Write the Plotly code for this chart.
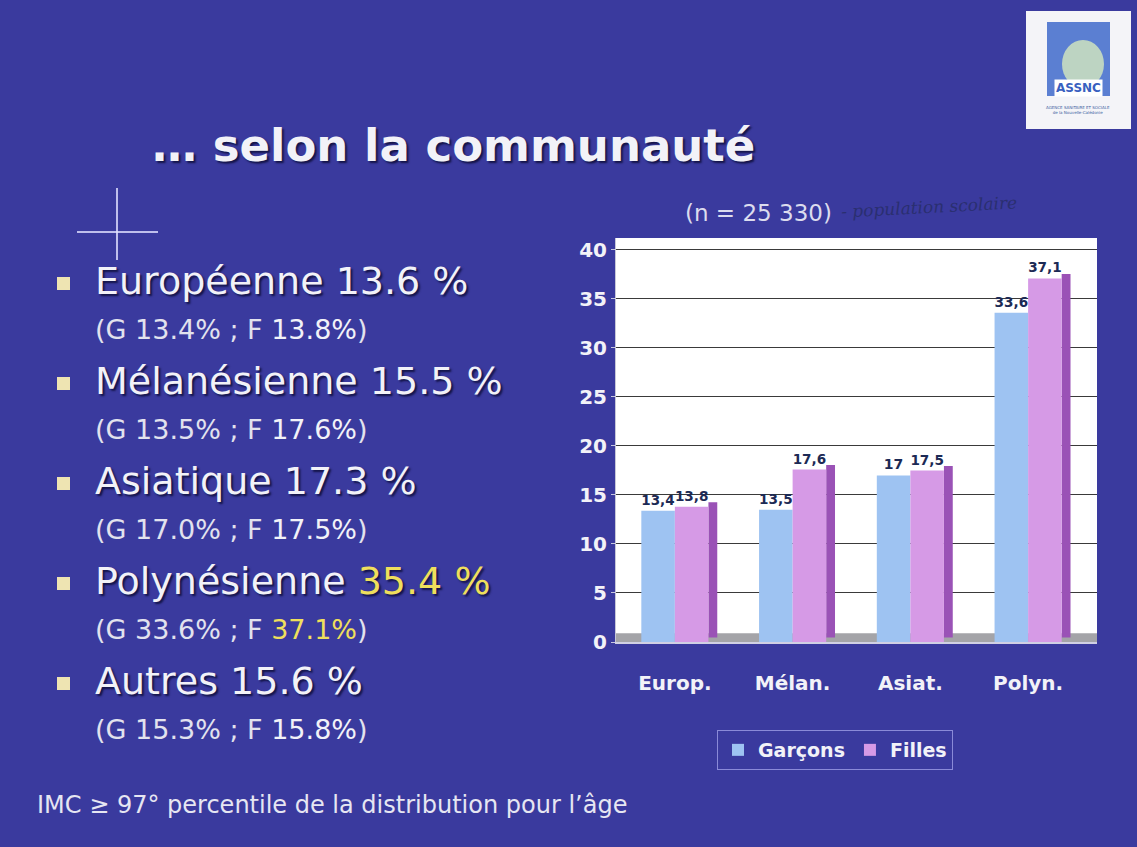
import plotly.graph_objects as go

# ---------------- data ----------------
categories = ["Europ.", "Mélan.", "Asiat.", "Polyn."]
garcons = [13.4, 13.5, 17.0, 33.6]
filles = [13.8, 17.6, 17.5, 37.1]
y_ticks = [0, 5, 10, 15, 20, 25, 30, 35, 40]

communautes = ["Européenne", "Mélanésienne", "Asiatique", "Polynésienne", "Autres"]
total_pct = [13.6, 15.5, 17.3, 35.4, 15.6]
g_pct = [13.4, 13.5, 17.0, 33.6, 15.3]
f_pct = [13.8, 17.6, 17.5, 37.1, 15.8]
highlight = [False, False, False, True, False]

title_text = "… selon la communauté"
n_text = "(n = 25 330)"
note_text = "IMC ≥ 97° percentile de la distribution pour l’âge"

# ---------------- styles ----------------
BG = "#3a3a9e"
WHITE = "#f2f2f8"
YELLOW = "#efdf5c"
BLUE = "#9ec3f2"
PINK = "#d69ae6"
PINK_SIDE = "#9a52b6"
LABEL = "#1c2a55"
FONT = "DejaVu Sans"
SHADOW = "2px 2px 2px rgba(10,10,50,0.8)"


def fr(v):
    return f"{v:g}".replace(".", ",")


W = 1137
H = 847
HR = 835  # effective rendered height used for vertical placement


def py(y):
    return 1 - y / HR


fig = go.Figure()

# side face of the Filles bars (pseudo-3D depth)
fig.add_trace(go.Bar(
    x=categories, y=filles, base=0.45, offset=0.285, width=0.075,
    marker=dict(color=PINK_SIDE, line=dict(width=0)),
    showlegend=False, hoverinfo="skip",
))
fig.add_trace(go.Bar(
    name="Garçons", x=categories, y=garcons, offset=-0.285, width=0.285,
    marker=dict(color=BLUE, line=dict(width=0)),
    text=[fr(v) for v in garcons], textposition="outside",
    textfont=dict(family=FONT, size=14, color=LABEL, weight="bold"),
    cliponaxis=False,
))
fig.add_trace(go.Bar(
    name="Filles", x=categories, y=filles, offset=0.0, width=0.285,
    marker=dict(color=PINK, line=dict(width=0)),
    text=[fr(v) for v in filles], textposition="outside",
    textfont=dict(family=FONT, size=14, color=LABEL, weight="bold"),
    cliponaxis=False,
))

x0, x1 = 616 / W, 1097 / W
y0, y1 = py(642), py(238)

fig.update_layout(
    width=W, height=H,
    margin=dict(l=0, r=0, t=0, b=0),
    paper_bgcolor=BG, plot_bgcolor="white",
    barmode="overlay",
    showlegend=True,
    legend=dict(
        orientation="h", x=835 / W, y=py(750), xanchor="center", yanchor="middle",
        bgcolor="rgba(0,0,0,0)", bordercolor="#8a8ad8", borderwidth=1,
        font=dict(family=FONT, size=19, color=WHITE, weight="bold"),
        itemsizing="constant", itemwidth=30, tracegroupgap=0,
    ),
    xaxis=dict(
        domain=[x0, x1], range=[-0.5, 3.585], type="category",
        showgrid=False, showline=True, linecolor="#d0d0e4", linewidth=2,
        ticks="", ticklabelstandoff=22,
        tickfont=dict(family=FONT, size=20, color=WHITE, weight="bold"),
        fixedrange=True,
    ),
    yaxis=dict(
        domain=[y0, y1], range=[0, 41.22],
        tickvals=y_ticks, ticktext=[str(t) for t in y_ticks],
        showgrid=True, gridcolor="#3a3a3a", gridwidth=1.3,
        zeroline=False, showline=True, linecolor="#c8c8d8", linewidth=1,
        ticks="outside", ticklen=4, tickcolor="#c8c8e0",
        tickfont=dict(family=FONT, size=20, color=WHITE, weight="bold"),
        fixedrange=True,
    ),
)

shapes = []
# grey floor
shapes.append(dict(type="rect", xref="x", yref="y", x0=-0.5, x1=3.585, y0=0, y1=0.9,
                   fillcolor="#a4a4a8", line=dict(width=0), layer="below"))
# logo box
shapes.append(dict(type="rect", xref="paper", yref="paper",
                   x0=1026 / W, x1=1131 / W, y0=py(129), y1=py(11),
                   fillcolor="#f4f4f8", line=dict(width=0)))
shapes.append(dict(type="rect", xref="paper", yref="paper",
                   x0=1047 / W, x1=1110 / W, y0=py(96), y1=py(22),
                   fillcolor="#5b7fd2", line=dict(width=0)))
shapes.append(dict(type="circle", xref="paper", yref="paper",
                   x0=1062 / W, x1=1104 / W, y0=py(88), y1=py(40),
                   fillcolor="#cfe3c0", line=dict(width=0), opacity=0.85))
# flare cross
shapes.append(dict(type="line", xref="paper", yref="paper",
                   x0=117 / W, x1=117 / W, y0=py(260), y1=py(188),
                   line=dict(color="rgba(225,225,255,0.8)", width=2)))
shapes.append(dict(type="line", xref="paper", yref="paper",
                   x0=77 / W, x1=158 / W, y0=py(232), y1=py(232),
                   line=dict(color="rgba(225,225,255,0.8)", width=2)))

annotations = []
annotations.append(dict(text="ASSNC", x=1078 / W, y=py(88), xref="paper", yref="paper",
                        showarrow=False, xanchor="center", yanchor="middle",
                        bgcolor="white",
                        font=dict(family=FONT, size=12, color="#3860c0", weight="bold")))
annotations.append(dict(text="AGENCE SANITAIRE ET SOCIALE<br>de la Nouvelle-Calédonie",
                        x=1078 / W, y=py(110), xref="paper", yref="paper",
                        showarrow=False, xanchor="center", yanchor="middle",
                        font=dict(family=FONT, size=4, color="#4060a0")))

# title
annotations.append(dict(text=title_text, x=150 / W, y=py(146), xref="paper", yref="paper",
                        showarrow=False, xanchor="left", yanchor="middle",
                        font=dict(family=FONT, size=45, color=WHITE, weight="bold", shadow=SHADOW)))
# n
annotations.append(dict(text=n_text, x=683 / W, y=py(213), xref="paper", yref="paper",
                        showarrow=False, xanchor="left", yanchor="middle",
                        font=dict(family=FONT, size=23, color="#dcdcee")))
annotations.append(dict(text="- population scolaire", x=838 / W, y=py(207), xref="paper", yref="paper",
                        showarrow=False, xanchor="left", yanchor="middle", textangle=-3,
                        font=dict(family="DejaVu Serif", size=17, color="#2a2f70", style="italic")))

# bullet list
line_y = [281, 381, 481, 581, 681]
for i, name in enumerate(communautes):
    yc = line_y[i]
    col = YELLOW if highlight[i] else WHITE
    main = f"{name} <span style='color:{col}'>{total_pct[i]:.1f} %</span>"
    sub = f"(G {g_pct[i]:.1f}% ; F <span style='color:{col}'>{f_pct[i]:.1f}%</span>)"
    annotations.append(dict(text=main, x=93 / W, y=py(yc), xref="paper", yref="paper",
                            showarrow=False, xanchor="left", yanchor="middle",
                            font=dict(family=FONT, size=38, color=WHITE, shadow=SHADOW)))
    annotations.append(dict(text=sub, x=93 / W, y=py(yc + 48), xref="paper", yref="paper",
                            showarrow=False, xanchor="left", yanchor="middle",
                            font=dict(family=FONT, size=27, color="#e2e2ee")))
    shapes.append(dict(type="rect", xref="paper", yref="paper",
                       x0=57 / W, x1=70 / W, y0=py(yc + 9), y1=py(yc - 4),
                       fillcolor="#eee4b2", line=dict(width=0)))

# footnote
annotations.append(dict(text=note_text, x=35 / W, y=py(805), xref="paper", yref="paper",
                        showarrow=False, xanchor="left", yanchor="middle",
                        font=dict(family=FONT, size=24, color="#e6e6f2")))

fig.update_layout(shapes=shapes, annotations=annotations)

fig.write_html(
    "out.html",
    config={"displayModeBar": False},
    post_script="document.body.style.margin='0';document.body.style.overflow='hidden';"
                "document.body.style.background='#3a3a9e';",
)
